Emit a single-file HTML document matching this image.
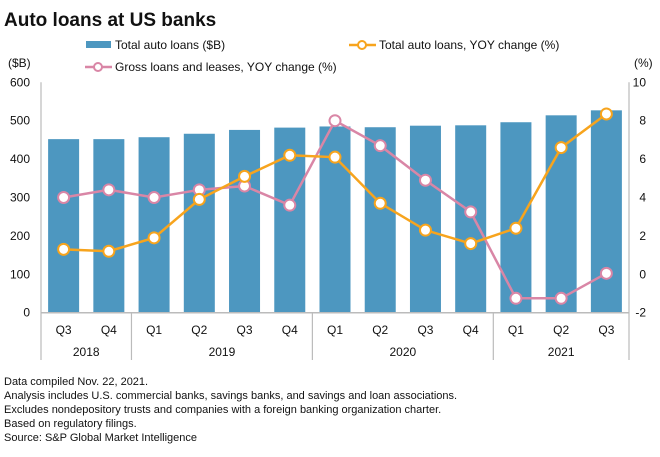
<!DOCTYPE html>
<html><head><meta charset="utf-8"><style>
body{margin:0;background:#fff;font-family:"Liberation Sans",sans-serif;}
svg text{font-family:"Liberation Sans",sans-serif;}
</style></head><body>
<svg id="c" width="660" height="452" xmlns="http://www.w3.org/2000/svg">
<text x="4" y="26" font-size="19" font-weight="bold" fill="#111">Auto loans at US banks</text>
<g>
<rect x="86" y="41" width="25" height="7" fill="#4d97c0"/>
<text x="115" y="49" font-size="12" fill="#111">Total auto loans ($B)</text>
<line x1="349" y1="45" x2="376" y2="45" stroke="#f7a41d" stroke-width="2.5"/>
<circle cx="362" cy="45" r="4" fill="#fff" stroke="#f7a41d" stroke-width="2"/>
<text x="379" y="49" font-size="12" fill="#111">Total auto loans, YOY change (%)</text>
<line x1="85" y1="67" x2="112" y2="67" stroke="#d986a6" stroke-width="2.5"/>
<circle cx="98" cy="67" r="4" fill="#fff" stroke="#d986a6" stroke-width="2"/>
<text x="115" y="71" font-size="12" fill="#111">Gross loans and leases, YOY change (%)</text>
</g>
<text x="8" y="67" font-size="12" fill="#111">($B)</text>
<text x="634" y="67" font-size="12" fill="#111">(%)</text>
<g id="plot"></g>
<g font-size="11" fill="#111">
<text x="4" y="385">Data compiled Nov. 22, 2021.</text>
<text x="4" y="399">Analysis includes U.S. commercial banks, savings banks, and savings and loan associations.</text>
<text x="4" y="413">Excludes nondepository trusts and companies with a foreign banking organization charter.</text>
<text x="4" y="427">Based on regulatory filings.</text>
<text x="4" y="441">Source: S&amp;P Global Market Intelligence</text>
</g>
</svg>
<script>
const categories=["Q3","Q4","Q1","Q2","Q3","Q4","Q1","Q2","Q3","Q4","Q1","Q2","Q3"];
const years=["2018","2019","2020","2021"];
const yearCounts=[2,4,4,3];
const autoLoans=[452,452,457,466,476,482,485,483,487,488,496,514,527];
const autoYoy=[1.3,1.2,1.9,3.9,5.1,6.2,6.1,3.7,2.3,1.6,2.4,6.6,8.35];
const grossYoy=[4.0,4.4,4.0,4.4,4.6,3.6,8.0,6.7,4.9,3.25,-1.25,-1.25,0.05];
const leftTicks=[0,100,200,300,400,500,600];
const rightTicks=[-2,0,2,4,6,8,10];
const L=41,R=629,T=82.3,B=312.7,n=categories.length,cw=(R-L)/n;
const xC=i=>L+cw*(i+0.5);
const yL=v=>B-(v/600)*(B-T);
const yR=v=>B-((v+2)/12)*(B-T);
const NS="http://www.w3.org/2000/svg",g=document.getElementById('plot');
function mk(t,a,p){const e=document.createElementNS(NS,t);for(const k in a)e.setAttribute(k,a[k]);(p||g).appendChild(e);return e;}
leftTicks.forEach(v=>{const t=mk('text',{x:30,y:yL(v)+4,'font-size':12,'text-anchor':'end',fill:'#111'});t.textContent=v;

});
rightTicks.forEach(v=>{const t=mk('text',{x:646,y:yR(v)+4,'font-size':12,'text-anchor':'end',fill:'#111'});t.textContent=v;

});
autoLoans.forEach((v,i)=>{const r=mk('rect',{x:xC(i)-15.5,y:yL(v),width:31,height:B-yL(v),fill:'#4d97c0'});

});
mk('line',{x1:L,y1:B,x2:R,y2:B,stroke:'#bbb','stroke-width':1.5});
mk('line',{x1:L,y1:T,x2:L,y2:360,stroke:'#bbb','stroke-width':1.2});
mk('line',{x1:R,y1:T,x2:R,y2:360,stroke:'#bbb','stroke-width':1.2});
categories.forEach((c,i)=>{const t=mk('text',{x:xC(i),y:334,'font-size':12,'text-anchor':'middle',fill:'#111'});t.textContent=c;

});
let s=0;years.forEach((y,k)=>{const c=yearCounts[k];const t=mk('text',{x:L+cw*(s+c/2),y:356,'font-size':12,'text-anchor':'middle',fill:'#111'});t.textContent=y;


s+=c;if(k<years.length-1)mk('line',{x1:L+cw*s,y1:B,x2:L+cw*s,y2:360,stroke:'#bbb','stroke-width':1.2});});
function series(vals,col,name){const p=mk('polyline',{points:vals.map((v,i)=>xC(i)+','+yR(v)).join(' '),fill:'none',stroke:col,'stroke-width':2.5});


vals.forEach((v,i)=>{const c=mk('circle',{cx:xC(i),cy:yR(v),r:5.5,fill:'#fff',stroke:col,'stroke-width':2});

});}
series(grossYoy,'#d986a6','gross-yoy');
series(autoYoy,'#f7a41d','auto-yoy');
</script>
</body></html>
